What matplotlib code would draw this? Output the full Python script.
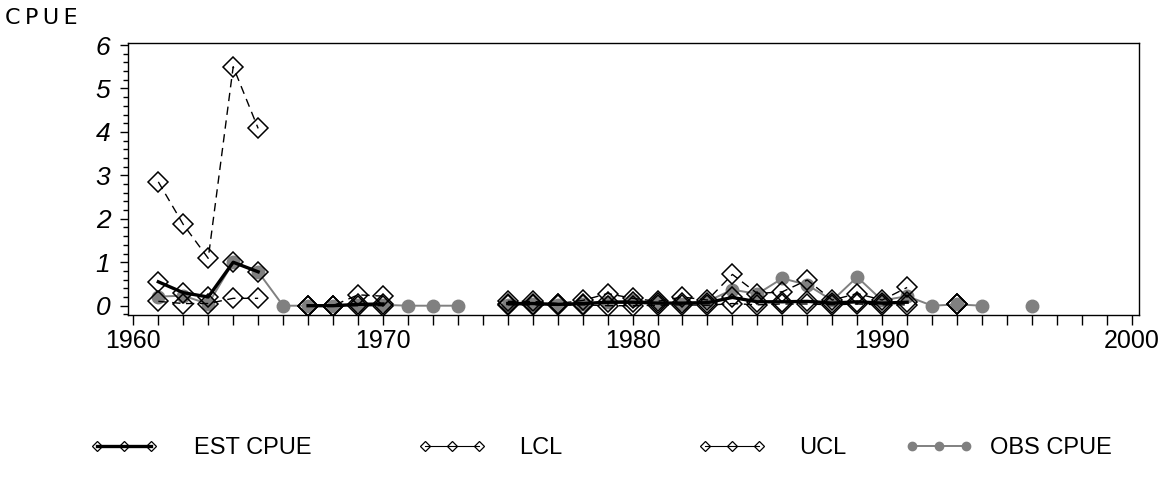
import numpy as np
import matplotlib
matplotlib.use("Agg")
import matplotlib.pyplot as plt
from matplotlib.lines import Line2D
from matplotlib.ticker import MultipleLocator

plt.rcParams['font.family'] = ['Liberation Sans', 'DejaVu Sans']

nan = np.nan

# years 1961..1996
years = list(range(1961, 1997))

est_cpue = [0.55, 0.30, 0.20, 1.00, 0.78, nan, 0.00, 0.00, 0.03, 0.04,
            nan, nan, nan, nan,
            0.05, 0.05, 0.03, 0.05, 0.08, 0.08, 0.06, 0.06, 0.07, 0.19,
            0.09, 0.09, 0.10, 0.06, 0.09, 0.06, 0.08, nan, 0.03, nan, nan, nan]

lcl = [0.10, 0.05, 0.05, 0.17, 0.17, nan, 0.00, 0.00, 0.00, 0.00,
       nan, nan, nan, nan,
       0.02, 0.02, 0.01, 0.02, 0.00, 0.00, 0.01, 0.02, 0.01, 0.05,
       0.02, 0.04, 0.04, 0.02, 0.04, 0.02, 0.02, nan, 0.03, nan, nan, nan]

ucl = [2.85, 1.87, 1.09, 5.50, 4.08, nan, 0.00, 0.00, 0.25, 0.22,
       nan, nan, nan, nan,
       0.10, 0.10, 0.05, 0.12, 0.28, 0.17, 0.10, 0.20, 0.13, 0.72,
       0.28, 0.32, 0.59, 0.13, 0.28, 0.13, 0.42, nan, 0.03, nan, nan, nan]

obs_cpue = [0.21, 0.23, 0.04, 1.00, 0.78, 0.00, 0.00, 0.00, 0.02, 0.02,
            0.00, 0.00, 0.00, nan,
            0.02, 0.03, 0.02, 0.04, 0.09, 0.12, 0.08, 0.05, 0.10, 0.37,
            0.27, 0.63, 0.48, 0.12, 0.66, 0.12, 0.22, 0.00, 0.03, 0.00, nan, 0.00]

legend_labels = ['EST CPUE', 'LCL', 'UCL', 'OBS CPUE']

GRAY = '#808080'
DASH = (0, (6, 4))

fig = plt.figure(figsize=(11.68, 4.80), dpi=100)
ax = fig.add_axes([0.1099, 0.34375, 0.8655, 0.56665])

# observed cpue underneath, so it shows inside the hollow diamonds
ax.plot(years, obs_cpue, color=GRAY, lw=1.4, marker='o', ms=9,
        mfc=GRAY, mec=GRAY, zorder=2)
ax.plot(years, lcl, color='black', lw=1.0, ls=DASH, marker='D', ms=9.8,
        mfc='none', mec='black', mew=1.1, zorder=3)
ax.plot(years, ucl, color='black', lw=1.0, ls=DASH, marker='D', ms=9.8,
        mfc='none', mec='black', mew=1.1, zorder=3)
ax.plot(years, est_cpue, color='black', lw=2.4, marker='D', ms=9.8,
        mfc='none', mec='black', mew=1.1, zorder=4)

ax.set_xlim(1959.8, 2000.3)
ax.set_ylim(-0.214, 6.046)

ax.xaxis.set_major_locator(MultipleLocator(10))
ax.xaxis.set_minor_locator(MultipleLocator(1))
ax.yaxis.set_major_locator(MultipleLocator(1))
ax.yaxis.set_minor_locator(MultipleLocator(0.2))

ax.tick_params(axis='x', which='both', direction='out', length=7, width=1,
               labelsize=18, pad=3)
ax.tick_params(axis='y', which='major', direction='out', length=6, width=1,
               labelsize=19, pad=7)
ax.tick_params(axis='y', which='minor', direction='out', length=3.5, width=1)
for lab in ax.get_yticklabels():
    lab.set_fontstyle('italic')

for sp in ax.spines.values():
    sp.set_linewidth(1.0)

fig.text(0.004, 1 - 18 / 480, 'C\u2009P\u2009U\u2009E', fontsize=16, va='center', ha='left',
         family=['DejaVu Sans'])

# legend, one entry per block so the uneven spacing can be kept
handles = [
    Line2D([], [], color='black', lw=2.4, marker='D', ms=5, mfc='none', mec='black', mew=0.9),
    Line2D([], [], color='black', lw=0.8, marker='D', ms=5, mfc='none', mec='black', mew=0.9),
    Line2D([], [], color='black', lw=0.8, marker='D', ms=5, mfc='none', mec='black', mew=0.9),
    Line2D([], [], color=GRAY, lw=1.4, marker='o', ms=6, mfc=GRAY, mec=GRAY),
]
leg_x = [90, 418, 698, 905]
text_pad = [1.5, 1.4, 1.4, 0.7]
for h, lbl, x, tp in zip(handles, legend_labels, leg_x, text_pad):
    fig.legend([h], [lbl], loc='center left', bbox_to_anchor=(x / 1168, 1 - 448 / 480),
               frameon=False, fontsize=17, numpoints=3, handlelength=2.9,
               handletextpad=tp, borderpad=0, borderaxespad=0)

fig.savefig('out.png', dpi=100)
